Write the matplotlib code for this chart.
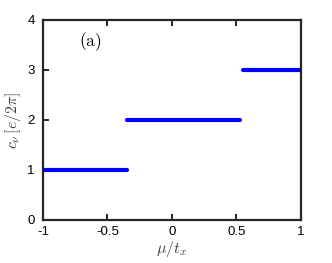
import matplotlib
matplotlib.use('Agg')
import matplotlib.pyplot as plt

# plateaus of the Chern number vs mu/t_x
seg_start = [-1.0, -0.35, 0.55]
seg_end = [-0.35, 0.53, 1.0]
chern = [1, 2, 3]

plt.rcParams['mathtext.fontset'] = 'cm'
plt.rcParams['font.family'] = 'Liberation Sans'

fig = plt.figure(figsize=(3.32, 2.63), dpi=100)
ax = fig.add_axes([0.1295, 0.1635, 0.777, 0.7605])

for x0, x1, c in zip(seg_start, seg_end, chern):
    ax.plot([x0, x1], [c, c], color='#0000ff', lw=3.0, solid_capstyle='round')

ax.set_xlim(-1, 1)
ax.set_ylim(0, 4)
ax.set_xticks([-1, -0.5, 0, 0.5, 1])
ax.set_xticklabels(['-1', '-0.5', '0', '0.5', '1'])
ax.set_yticks([0, 1, 2, 3, 4])
ax.tick_params(direction='in', length=4, width=1.2, labelsize=9.5, top=True, right=False)
ax.tick_params(axis='x', pad=4)
ax.tick_params(axis='y', pad=6)
for s in ax.spines.values():
    s.set_linewidth(1.6)
    s.set_color('#262626')

ax.set_xlabel(r'$\mu/t_x$', fontsize=11.5, color='#404040', labelpad=1)
ax.set_ylabel(r'$c_\nu\,[e/2\pi]$', fontsize=11.5, color='#404040', labelpad=3)
ax.text(-0.72, 3.47, r'$(\mathrm{a})$', fontsize=12.5)

fig.savefig('out.png', dpi=100)
